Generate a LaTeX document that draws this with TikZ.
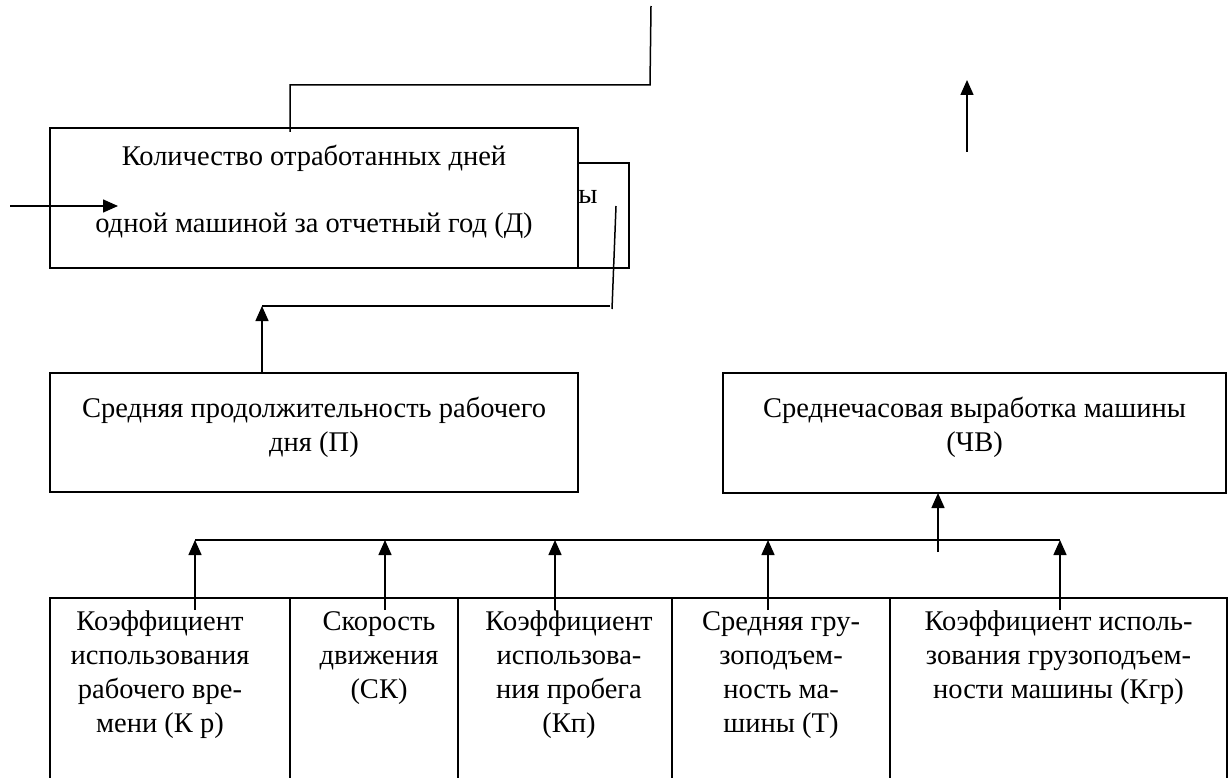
\documentclass[tikz,border=0pt]{standalone}
\usepackage{fontspec}
\setmainfont{Liberation Serif}
\usetikzlibrary{positioning, arrows.meta}
\tikzset{
  blk/.style={draw, line width=1.8pt, fill=white, inner sep=0pt, outer sep=0pt},
  txt/.style={align=center, inner sep=0pt, font=\fontsize{28.5}{34}\selectfont},
  wire/.style={line width=1.5pt},
  arr/.style={line width=1.5pt, -{Triangle[length=15pt, width=13pt]}}
}
\begin{document}
\begin{tikzpicture}[x=1pt, y=-1pt]
  \useasboundingbox (0,0) rectangle (1230,778);
  \clip (0,0) rectangle (1230,778);

  % Box behind the top box
  \node[blk, minimum width=51pt, minimum height=105pt, anchor=north west] (back) at (578,163) {};
  \node[txt, anchor=base] (backtext) at (588,203) {ы};

  % Top box
  \node[blk, minimum width=528pt, minimum height=140pt, anchor=north west] (D) at (50,128) {};
  \node[txt, anchor=north, font=\fontsize{28.5}{67}\selectfont] (Dtext) at ([yshift=-17pt]D.north)
    {Количество отработанных дней\\одной машиной за отчетный год (Д)};

  % Middle boxes
  \node[blk, minimum width=528pt, minimum height=119pt, anchor=north west] (P) at (50,373) {};
  \node[txt, anchor=north] (Ptext) at ([yshift=-24pt]P.north) {Средняя продолжительность рабочего\\дня (П)};
  \node[blk, minimum width=503pt, minimum height=120pt, anchor=north west] (CV) at (723,373) {};
  \node[txt, anchor=north] (CVtext) at ([yshift=-24pt]CV.north) {Среднечасовая выработка машины\\(ЧВ)};

  % Bottom row
  \node[blk, minimum width=240pt, minimum height=190pt, anchor=north west] (kr) at (50,598) {};
  \node[blk, minimum width=168pt, minimum height=190pt, right=0pt of kr] (sk) {};
  \node[blk, minimum width=214pt, minimum height=190pt, right=0pt of sk] (kp) {};
  \node[blk, minimum width=218pt, minimum height=190pt, right=0pt of kp] (gt) {};
  \node[blk, minimum width=337pt, minimum height=190pt, right=0pt of gt] (kgr) {};
  \node[txt, anchor=north] (krtext) at ([xshift=-10pt, yshift=-13pt]kr.north) {Коэффициент\\использования\\рабочего вре-\\мени (К р)};
  \node[txt, anchor=north] (sktext) at ([xshift=5pt, yshift=-13pt]sk.north) {Скорость\\движения\\(СК)};
  \node[txt, anchor=north] (kptext) at ([xshift=4pt, yshift=-13pt]kp.north) {Коэффициент\\использова-\\ния пробега\\(Кп)};
  \node[txt, anchor=north] (gttext) at ([yshift=-13pt]gt.north) {Средняя гру-\\зоподъем-\\ность ма-\\шины (Т)};
  \node[txt, anchor=north] (kgrtext) at ([yshift=-13pt]kgr.north) {Коэффициент исполь-\\зования грузоподъем-\\ности машины (Кгр)};

  % Loose connectors at the top
  \coordinate (t0) at (651,6);
  \coordinate (t1) at (650,85);
  \coordinate (t2) at (290,85);
  \draw[wire] (t0) -- (t1) -- (t2) -- ([yshift=-4pt]t2 |- D.north);
  \coordinate (inL) at (10,206);
  \coordinate (inR) at (118,206);
  \draw[arr] (inL) -- (inR);
  \coordinate (upA) at (967,152);
  \coordinate (upB) at (967,80);
  \draw[arr] (upA) -- (upB);
  \coordinate (r0) at (616,206);
  \coordinate (r1) at (612,309);
  \draw[wire] (r0) -- (r1);
  \coordinate (h0) at (610,306);
  \coordinate (h1) at (262,306);
  \draw[wire] (h0) -- (h1);
  \draw[arr] (h1 |- P.north) -- (h1);

  % Bus to the hourly output box
  \coordinate (bus1) at (195,540);
  \coordinate (bus2) at (385,540);
  \coordinate (bus3) at (555,540);
  \coordinate (bus4) at (768,540);
  \coordinate (bus5) at (1060,540);
  \draw[wire] (bus1) -- (bus5);
  \draw[arr] ([yshift=-12pt]bus1 |- kr.north) -- (bus1);
  \draw[arr] ([yshift=-12pt]bus2 |- sk.north) -- (bus2);
  \draw[arr] ([yshift=-12pt]bus3 |- kp.north) -- (bus3);
  \draw[arr] ([yshift=-12pt]bus4 |- gt.north) -- (bus4);
  \draw[arr] ([yshift=-12pt]bus5 |- kgr.north) -- (bus5);
  \coordinate (cv0) at (938,552);
  \draw[arr] (cv0) -- (cv0 |- CV.south);
\end{tikzpicture}
\end{document}
